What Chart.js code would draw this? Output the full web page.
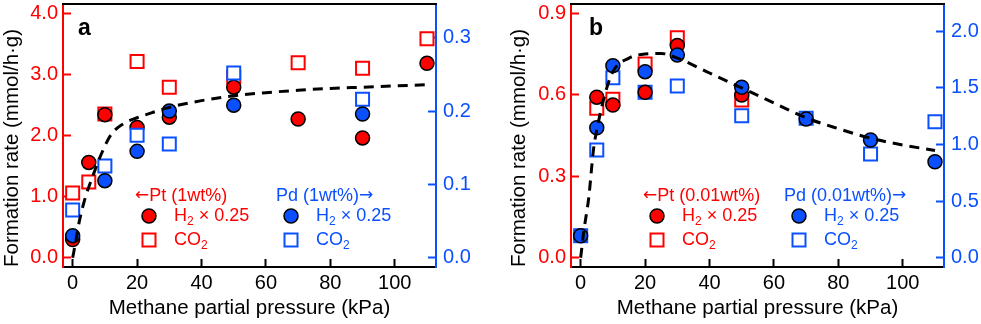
<!DOCTYPE html>
<html>
<head>
<meta charset="utf-8">
<script src="https://cdn.jsdelivr.net/npm/chart.js@4.4.0/dist/chart.umd.min.js"></script>
<style>
  body { margin: 0; background: #fff; width: 981px; height: 324px; overflow: hidden; position: relative; }
  #panelA { position: absolute; left: 0; top: 0; }
  #panelB { position: absolute; left: 490px; top: 0; }
</style>
</head>
<body>
<canvas id="panelA" width="490" height="324"></canvas>
<canvas id="panelB" width="491" height="324"></canvas>
<script>
// ---- panel a : 1wt% ----
var ptH2X_a = [0, 5, 10, 20, 30, 50, 70, 90, 110];
var ptH2Y_a = [0.30, 1.56, 2.34, 2.13, 2.30, 2.79, 2.27, 1.96, 3.18];
var ptCO2X_a = [0, 5, 10, 20, 30, 50, 70, 90, 110];
var ptCO2Y_a = [1.06, 1.24, 2.35, 3.21, 2.79, 2.95, 3.19, 3.10, 3.58];
var pdH2X_a = [0, 10, 20, 30, 50, 90];
var pdH2Y_a = [0.030, 0.105, 0.145, 0.200, 0.208, 0.196];
var pdCO2X_a = [0, 10, 20, 30, 50, 90];
var pdCO2Y_a = [0.065, 0.125, 0.167, 0.155, 0.252, 0.216];
var fitX_a = [0, 1, 2, 4, 6, 9, 12, 16, 20, 25, 30, 40, 50, 60, 70, 80, 90, 100, 110];
var fitY_a = [0, 0.28, 0.58, 1.00, 1.30, 1.71, 2.02, 2.20, 2.29, 2.38, 2.46, 2.57, 2.65, 2.70, 2.74, 2.77, 2.79, 2.81, 2.83];

// ---- panel b : 0.01wt% ----
var ptH2X_b = [5, 10, 20, 30, 50];
var ptH2Y_b = [0.591, 0.562, 0.609, 0.781, 0.599];
var ptCO2X_b = [5, 10, 20, 30, 50];
var ptCO2Y_b = [0.550, 0.583, 0.713, 0.810, 0.581];
var pdH2X_b = [0, 5, 10, 20, 30, 50, 70, 90, 110];
var pdH2Y_b = [0.194, 1.147, 1.695, 1.642, 1.789, 1.504, 1.224, 1.039, 0.847];
var pdCO2X_b = [0, 5, 10, 20, 30, 50, 70, 90, 110];
var pdCO2Y_b = [0.194, 0.951, 1.589, 1.460, 1.515, 1.253, 1.230, 0.915, 1.200];
var fitX_b = [0, 1, 2.5, 4, 5, 7.5, 10, 15, 20, 25, 30, 40, 50, 60, 70, 80, 90, 100, 110];
var fitY_b = [0, 0.10, 0.22, 0.40, 0.47, 0.60, 0.685, 0.735, 0.75, 0.752, 0.735, 0.68, 0.625, 0.57, 0.515, 0.475, 0.44, 0.415, 0.395];

var xTicks = [0, 20, 40, 60, 80, 100];

var RED = '#ff0000';
var BLUE = '#0a50ff';
var FONT = "'Liberation Sans', Arial, sans-serif";
var ARROWFONT = "'DejaVu Sans', sans-serif";

function pts(xs, ys) {
  return xs.map(function(x, i) { return {x: x, y: ys[i]}; });
}

function circles(xs, ys, color, axis) {
  return {type: 'scatter', data: pts(xs, ys), yAxisID: axis, pointStyle: 'circle', pointRadius: 7,
    pointBorderWidth: 1.5, borderColor: '#000', backgroundColor: color, clip: false};
}
function squares(xs, ys, color, axis) {
  return {type: 'scatter', data: pts(xs, ys), yAxisID: axis, pointStyle: 'rect', pointRadius: 9.2,
    pointBorderWidth: 2, borderColor: color, backgroundColor: '#fff', clip: false};
}
function curve(xs, ys) {
  return {type: 'line', data: pts(xs, ys), yAxisID: 'y', showLine: true, pointRadius: 0,
    borderColor: '#000', borderWidth: 3, borderDash: [10, 7], cubicInterpolationMode: 'monotone', fill: false};
}

// draws pieces [text, font, dy] one after another, returns end x
function drawRun(c, parts, x, y) {
  parts.forEach(function(p) {
    c.font = p[1];
    c.fillText(p[0], x, y + (p[2] || 0));
    x += c.measureText(p[0]).width;
  });
  return x;
}

// legend, panel letter and top frame line
function extrasPlugin(letter, letterX, ptName, ptX, pdName, pdX) {
  return {
    id: 'extras',
    afterDraw: function(chart) {
      var c = chart.ctx, a = chart.chartArea;
      var f18 = '18px ' + FONT, f12 = '12px ' + FONT, fa = '17px ' + ARROWFONT;
      c.save();
      c.strokeStyle = '#000'; c.lineWidth = 2;
      c.beginPath(); c.moveTo(a.left - 1, a.top); c.lineTo(a.right + 1, a.top); c.stroke();

      c.fillStyle = '#000';
      c.font = 'bold 23px ' + FONT;
      c.textBaseline = 'alphabetic';
      c.textAlign = 'left';
      c.fillText(letter, letterX, 35);

      c.textBaseline = 'middle';
      c.fillStyle = RED;
      drawRun(c, [['\u2190', fa, 0], [ptName, f18]], ptX, 196);
      c.fillStyle = BLUE;
      drawRun(c, [[pdName, f18], ['\u2192', fa, 0]], pdX, 196);

      [[ptX + 14, RED], [pdX + 15, BLUE]].forEach(function(g) {
        var mx = g[0], col = g[1];
        c.beginPath(); c.arc(mx, 216, 7, 0, Math.PI * 2);
        c.fillStyle = col; c.fill();
        c.lineWidth = 1.5; c.strokeStyle = '#000'; c.stroke();
        c.lineWidth = 2; c.strokeStyle = col;
        c.strokeRect(mx - 6.5, 240 - 6.5, 13, 13);
        c.fillStyle = col;
        drawRun(c, [['H', f18], ['2', f12, 6], [' \u00d7 0.25', f18]], mx + 25, 216);
        drawRun(c, [['CO', f18], ['2', f12, 6]], mx + 25, 240);
      });
      c.restore();
    }
  };
}

// fixed axis box sizes, no overflow padding from tick labels
function fixWidth(w) {
  return function(s) { s.width = w; s.paddingTop = 0; s.paddingBottom = 0; };
}

function makeConfig(p) {
  return {
    type: 'scatter',
    data: {datasets: p.datasets},
    options: {
      responsive: false,
      animation: false,
      events: [],
      layout: {autoPadding: false, padding: {left: 0, right: 0, top: 4, bottom: 0}},
      plugins: {legend: {display: false}, tooltip: {enabled: false}},
      scales: {
        x: {
          type: 'linear', min: -3, max: 112.8,
          afterBuildTicks: function(s) { s.ticks = xTicks.map(function(v) { return {value: v}; }); },
          afterFit: function(s) { s.height = 57; s.paddingLeft = 0; s.paddingRight = 0; },
          border: {color: '#000', width: 2},
          grid: {drawOnChartArea: false, drawTicks: true, tickLength: -8, tickWidth: 2, tickColor: '#000'},
          ticks: {color: '#000', font: {family: FONT, size: 20}, padding: 12, maxRotation: 0},
          title: {display: true, text: 'Methane partial pressure (kPa)', color: '#000',
            font: {family: FONT, size: 20.5}, padding: {top: 0, bottom: 3}}
        },
        y: {
          type: 'linear', position: 'left', min: p.yMin, max: p.yMax,
          afterBuildTicks: function(s) { s.ticks = p.yTicks.map(function(v) { return {value: v}; }); },
          afterFit: fixWidth(p.leftW),
          border: {color: RED, width: 2},
          grid: {drawOnChartArea: false, drawTicks: true, tickLength: -8, tickWidth: 2, tickColor: RED},
          ticks: {color: RED, font: {family: FONT, size: 20}, padding: 13,
            callback: function(v) { return v.toFixed(1); }},
          title: {display: true, text: 'Formation rate (mmol/h\u00b7g)', color: '#000', align: 'start',
            font: {family: FONT, size: 20.5}, padding: {top: p.titlePad, bottom: 0}}
        },
        y2: {
          type: 'linear', position: 'right', min: p.y2Min, max: p.y2Max,
          afterBuildTicks: function(s) { s.ticks = p.y2Ticks.map(function(v) { return {value: v}; }); },
          afterFit: fixWidth(p.rightW),
          border: {color: BLUE, width: 2},
          grid: {drawOnChartArea: false, drawTicks: true, tickLength: -8, tickWidth: 2, tickColor: BLUE},
          ticks: {color: BLUE, font: {family: FONT, size: 20}, padding: 15,
            callback: function(v) { return v.toFixed(1); }}
        }
      }
    },
    plugins: [p.extras]
  };
}

var chartA = new Chart(document.getElementById('panelA'), makeConfig({
  datasets: [
    curve(fitX_a, fitY_a),
    circles(pdH2X_a, pdH2Y_a, BLUE, 'y2'),
    squares(pdCO2X_a, pdCO2Y_a, BLUE, 'y2'),
    circles(ptH2X_a, ptH2Y_a, RED, 'y'),
    squares(ptCO2X_a, ptCO2Y_a, RED, 'y')
  ],
  yMin: -0.15, yMax: 4.15, yTicks: [0, 1, 2, 3, 4],
  y2Min: -0.0127, y2Max: 0.346, y2Ticks: [0, 0.1, 0.2, 0.3],
  leftW: 63, rightW: 54, titlePad: 0,
  extras: extrasPlugin('a', 78, 'Pt (1wt%)', 135, 'Pd (1wt%)', 276)
}));

var chartB = new Chart(document.getElementById('panelB'), makeConfig({
  datasets: [
    curve(fitX_b, fitY_b),
    circles(pdH2X_b, pdH2Y_b, BLUE, 'y2'),
    circles(ptH2X_b, ptH2Y_b, RED, 'y'),
    squares(pdCO2X_b, pdCO2Y_b, BLUE, 'y2'),
    squares(ptCO2X_b, ptCO2Y_b, RED, 'y')
  ],
  yMin: -0.034, yMax: 0.934, yTicks: [0, 0.3, 0.6, 0.9],
  y2Min: -0.082, y2Max: 2.239, y2Ticks: [0, 0.5, 1.0, 1.5, 2.0],
  leftW: 81, rightW: 37, titlePad: 17,
  extras: extrasPlugin('b', 99, 'Pt (0.01wt%)', 153, 'Pd (0.01wt%)', 294)
}));
</script>
</body>
</html>
